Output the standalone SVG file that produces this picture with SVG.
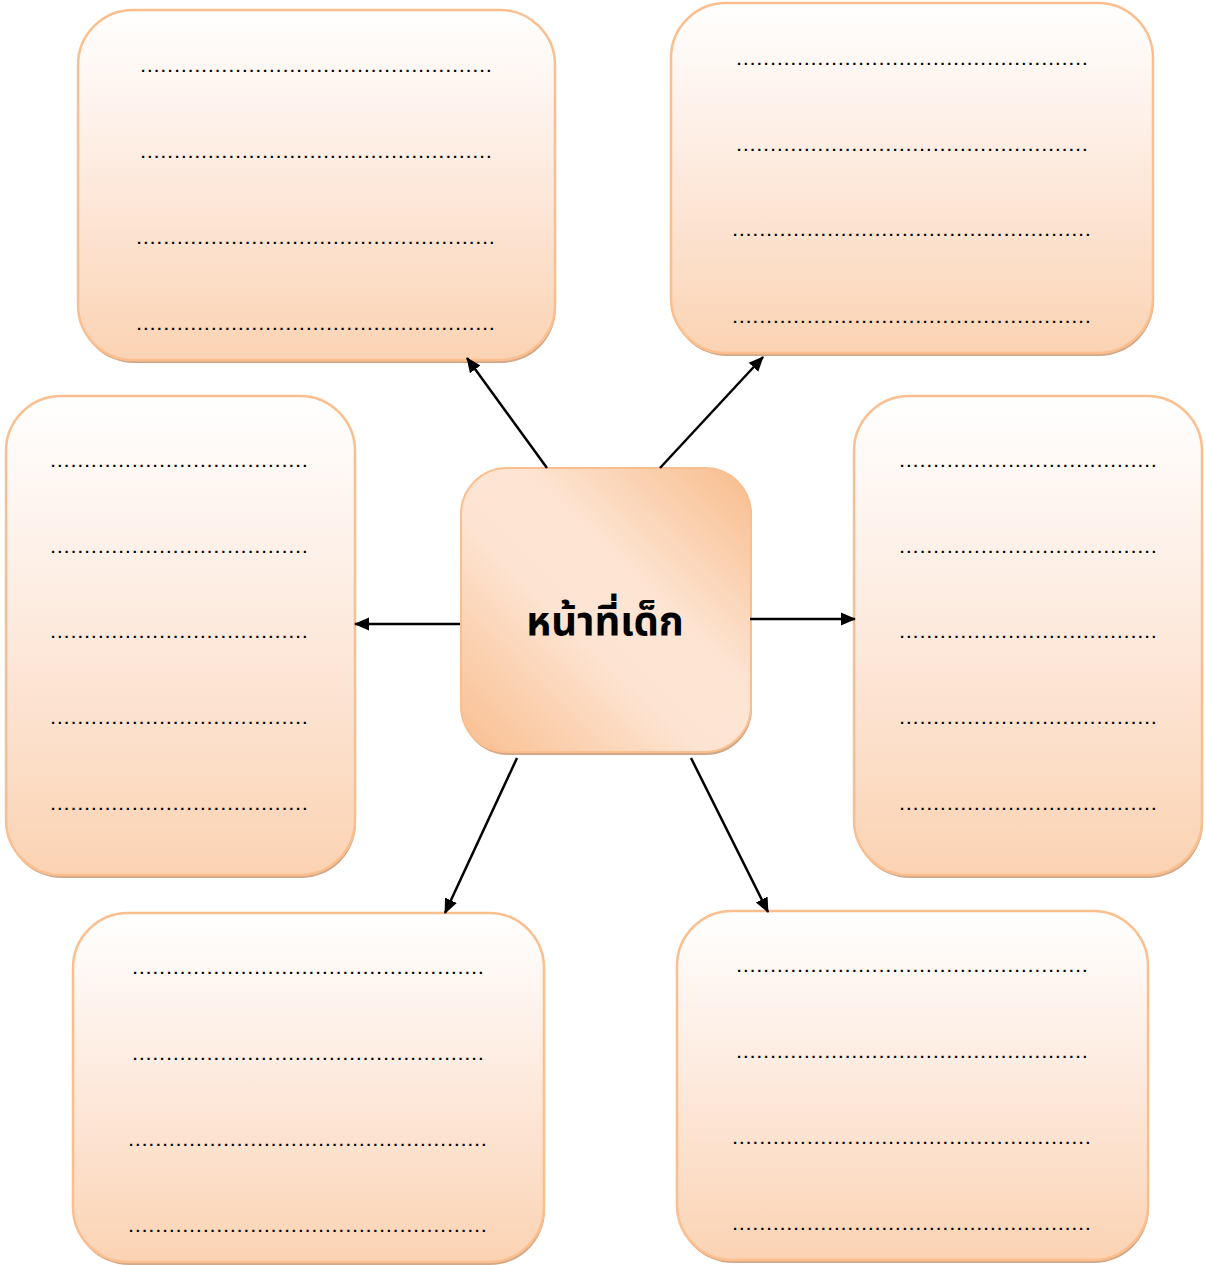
<svg xmlns="http://www.w3.org/2000/svg" width="1205" height="1265" viewBox="0 0 1205 1265">
<defs>
<linearGradient id="boxg" x1="0" y1="0" x2="0" y2="1">
<stop offset="0" stop-color="#ffffff"/>
<stop offset="0.5" stop-color="#fde9dc"/>
<stop offset="1" stop-color="#fbd3b3"/>
</linearGradient>
<linearGradient id="cg" x1="0" y1="1" x2="1" y2="0">
<stop offset="0" stop-color="#f9be8f"/>
<stop offset="0.42" stop-color="#fde4d2"/>
<stop offset="0.6" stop-color="#fde5d4"/>
<stop offset="1" stop-color="#f8bc8b"/>
</linearGradient>
<marker id="ah" markerUnits="userSpaceOnUse" markerWidth="15" markerHeight="15" viewBox="0 0 15 15" refX="14" refY="7.5" orient="auto">
<path d="M0,1 L15,7.5 L0,14 z" fill="#000"/>
</marker>
</defs>
<style>
.shadow{fill:#d3a886}
.box{fill:url(#boxg);stroke:#fbbf8f;stroke-width:2.5}
.center{fill:url(#cg);stroke:#fbbf8f;stroke-width:2}
.dots{font-family:"Liberation Sans",Arial,sans-serif;font-size:15px;font-weight:bold;fill:#000}
.conn line{stroke:#000;stroke-width:2.5;marker-end:url(#ah)}
.title{font-family:"Noto Sans Thai","Noto Sans","DejaVu Sans",sans-serif;font-size:40px;font-weight:bold;fill:#000}
</style>
<rect width="1205" height="1265" fill="#fff"/>

<g id="box-top-left">
<rect class="shadow" x="79" y="13" width="477" height="350" rx="55"/>
<rect class="box" x="78" y="10" width="477" height="350" rx="55"/>
<text class="dots" x="141" y="72" textLength="350" lengthAdjust="spacing">....................................................</text>
<text class="dots" x="141" y="158" textLength="350" lengthAdjust="spacing">....................................................</text>
<text class="dots" x="137" y="244" textLength="357" lengthAdjust="spacing">.....................................................</text>
<text class="dots" x="137" y="330" textLength="357" lengthAdjust="spacing">.....................................................</text>
</g>

<g id="box-top-right">
<rect class="shadow" x="672" y="6" width="482" height="350" rx="55"/>
<rect class="box" x="671" y="3" width="482" height="350" rx="55"/>
<text class="dots" x="737" y="65" textLength="350" lengthAdjust="spacing">....................................................</text>
<text class="dots" x="737" y="151" textLength="350" lengthAdjust="spacing">....................................................</text>
<text class="dots" x="733" y="236" textLength="357" lengthAdjust="spacing">.....................................................</text>
<text class="dots" x="733" y="323" textLength="357" lengthAdjust="spacing">.....................................................</text>
</g>

<g id="box-left">
<rect class="shadow" x="7" y="399" width="349" height="479" rx="55"/>
<rect class="box" x="6" y="396" width="349" height="479" rx="55"/>
<text class="dots" x="51" y="467" textLength="256" lengthAdjust="spacing">......................................</text>
<text class="dots" x="51" y="553" textLength="256" lengthAdjust="spacing">......................................</text>
<text class="dots" x="51" y="638" textLength="256" lengthAdjust="spacing">......................................</text>
<text class="dots" x="51" y="724" textLength="256" lengthAdjust="spacing">......................................</text>
<text class="dots" x="51" y="810" textLength="256" lengthAdjust="spacing">......................................</text>
</g>

<g id="box-right">
<rect class="shadow" x="855" y="399" width="348" height="479" rx="55"/>
<rect class="box" x="854" y="396" width="348" height="479" rx="55"/>
<text class="dots" x="900" y="467" textLength="256" lengthAdjust="spacing">......................................</text>
<text class="dots" x="900" y="553" textLength="256" lengthAdjust="spacing">......................................</text>
<text class="dots" x="900" y="638" textLength="256" lengthAdjust="spacing">......................................</text>
<text class="dots" x="900" y="724" textLength="256" lengthAdjust="spacing">......................................</text>
<text class="dots" x="900" y="810" textLength="256" lengthAdjust="spacing">......................................</text>
</g>

<g id="box-bottom-left">
<rect class="shadow" x="74" y="916" width="471" height="349" rx="55"/>
<rect class="box" x="73" y="913" width="471" height="349" rx="55"/>
<text class="dots" x="133" y="974" textLength="350" lengthAdjust="spacing">....................................................</text>
<text class="dots" x="133" y="1060" textLength="350" lengthAdjust="spacing">....................................................</text>
<text class="dots" x="129" y="1146" textLength="357" lengthAdjust="spacing">.....................................................</text>
<text class="dots" x="129" y="1232" textLength="357" lengthAdjust="spacing">.....................................................</text>
</g>

<g id="box-bottom-right">
<rect class="shadow" x="678" y="914" width="471" height="349" rx="55"/>
<rect class="box" x="677" y="911" width="471" height="349" rx="55"/>
<text class="dots" x="737" y="972" textLength="350" lengthAdjust="spacing">....................................................</text>
<text class="dots" x="737" y="1058" textLength="350" lengthAdjust="spacing">....................................................</text>
<text class="dots" x="733" y="1144" textLength="357" lengthAdjust="spacing">.....................................................</text>
<text class="dots" x="733" y="1230" textLength="357" lengthAdjust="spacing">.....................................................</text>
</g>

<g id="center">
<rect class="shadow" x="462" y="471" width="290" height="284" rx="46"/>
<rect class="center" x="461" y="468" width="290" height="284" rx="46"/>
<text class="title" x="605" y="635" text-anchor="middle">หน้าที่เด็ก</text>
</g>

<g id="connectors" class="conn">
<line x1="547" y1="468" x2="467" y2="358"/>
<line x1="660" y1="468" x2="763" y2="357"/>
<line x1="460" y1="624" x2="355" y2="624"/>
<line x1="750" y1="619" x2="855" y2="619"/>
<line x1="517" y1="758" x2="445" y2="913"/>
<line x1="691" y1="758" x2="768" y2="912"/>
</g>
</svg>
